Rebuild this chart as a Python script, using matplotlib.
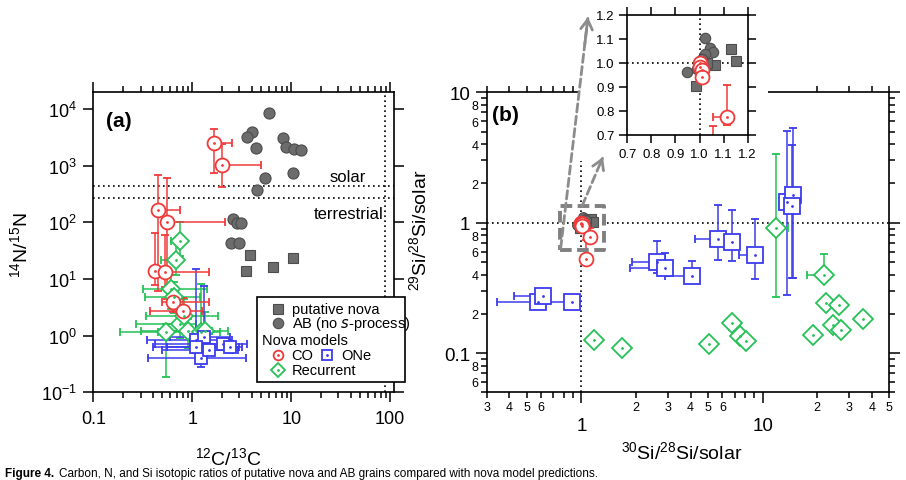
import numpy as np
import matplotlib
matplotlib.use("Agg")
import matplotlib.pyplot as plt
from matplotlib.patches import Rectangle, FancyArrowPatch
from matplotlib.lines import Line2D
from matplotlib.ticker import NullLocator

plt.rcParams['font.family'] = ['Liberation Sans', 'DejaVu Sans']
plt.rcParams['mathtext.default'] = 'regular'

# ---------------- panel (a): 12C/13C vs 14N/15N ----------------
ab_a_c = [5.9, 4.0, 3.57, 4.4, 8.35, 8.8, 10.7, 12.5, 10.4, 5.46, 4.5, 2.6, 2.84, 3.1, 2.45, 3.0]
ab_a_n = [8400, 3880, 3250, 2080, 3040, 2110, 1970, 1890, 733, 607, 378, 115, 97, 97, 43, 43]
nova_a_c = [3.86, 3.5, 6.5, 10.5]
nova_a_n = [27, 13.9, 16.6, 23.5]

co_a_c = [1.65, 1.99, 0.45, 0.556, 0.418, 0.527, 0.64, 0.80]
co_a_n = [2480, 1040, 167, 103, 14.1, 13.2, 4.0, 2.77]
co_a_clo = [1.58, 1.95, 0.44, 0.545, 0.41, 0.52, 0.49, 0.377]
co_a_chi = [2.5, 4.94, 0.745, 2.15, 0.43, 1.49, 1.49, 1.25]
co_a_nlo = [733, 418, 6.2, 4.5, 7.7, 7.3, 2.6, 1.8]
co_a_nhi = [4440, 2400, 694, 608, 64, 60, 6.5, 4.6]

one_a_c = [1.23, 1.49, 2.03, 1.08, 1.3, 1.1, 2.4]
one_a_n = [0.40, 0.55, 0.72, 0.85, 0.95, 0.62, 0.62]
one_a_clo = [0.36, 0.5, 0.42, 0.35, 0.6, 0.4, 0.55]
one_a_chi = [3.5, 2.9, 3.6, 2.5, 2.4, 3.0, 3.2]
one_a_nlo = [0.28, 0.45, 0.62, 0.5, 0.8, 0.5, 0.5]
one_a_nhi = [0.5, 0.7, 0.9, 15, 7.5, 1.0, 0.8]

rec_a_c = [0.76, 0.69, 0.61, 0.745, 0.547, 0.90, 1.23, 1.33, 0.82, 0.66]
rec_a_n = [47.5, 22, 6.7, 1.6, 1.15, 1.23, 1.15, 1.23, 2.2, 4.8]
rec_a_clo = [0.61, 0.488, 0.318, 0.273, 0.186, 0.30, 0.45, 0.5, 0.344, 0.33]
rec_a_chi = [0.77, 0.70, 1.4, 1.1, 0.56, 1.6, 1.9, 2.3, 1.8, 1.2]
rec_a_nlo = [25, 12, 3.0, 0.9, 0.19, 0.6, 0.5, 0.8, 1.2, 2.5]
rec_a_nhi = [103, 45, 12, 3.5, 1.6, 2.0, 8.0, 2.6, 4.5, 9.0]

# ---------------- panel (b): 30Si/28Si vs 29Si/28Si (solar-normalised) ----------------
ab_b_30 = [1.023, 1.043, 1.057, 1.023, 1.009, 1.005, 0.948, 0.988]
ab_b_29 = [1.103, 1.061, 1.044, 1.038, 1.017, 1.003, 0.964, 0.975]
nova_b_30 = [1.129, 1.152, 1.064, 0.984, 1.03]
nova_b_29 = [1.058, 1.008, 0.993, 0.903, 1.0]

co_b_30 = [1.0, 1.0, 1.01, 1.012, 1.113, 1.057]
co_b_29 = [1.0, 0.985, 0.971, 0.94, 0.774, 0.527]
co_b_30lo = [1.0, 1.0, 1.01, 1.012, 1.057, 1.057]
co_b_30hi = [1.0, 1.0, 1.01, 1.012, 1.118, 1.057]
co_b_29lo = [1.0, 0.985, 0.971, 0.94, 0.742, 0.50]
co_b_29hi = [1.0, 0.985, 0.971, 0.94, 0.909, 0.739]

one_b_30 = [0.579, 0.612, 0.885, 2.62, 2.89, 4.06, 5.65, 6.75, 9.07, 13.6, 14.8, 14.6]
one_b_29 = [0.245, 0.273, 0.245, 0.497, 0.447, 0.388, 0.75, 0.707, 0.566, 1.45, 1.63, 1.35]
one_b_30lo = [0.579, 0.422, 0.341, 1.9, 1.85, 2.9, 4.24, 6.75, 7.4, 13.6, 14.8, 14.6]
one_b_30hi = [0.579, 0.612, 0.885, 2.62, 2.89, 4.06, 5.65, 6.75, 9.07, 13.6, 14.8, 14.6]
one_b_29lo = [0.245, 0.273, 0.245, 0.41, 0.42, 0.375, 0.518, 0.51, 0.371, 0.28, 0.375, 0.375]
one_b_29hi = [0.245, 0.273, 0.245, 0.728, 0.586, 0.512, 1.36, 1.24, 1.07, 5.06, 5.37, 3.93]

rec_b_30 = [11.8, 21.9, 22.4, 26.5, 24.3, 27.0, 35.9, 19.0, 6.8, 7.5, 8.06, 5.08, 1.17, 1.68]
rec_b_29 = [0.905, 0.398, 0.243, 0.234, 0.163, 0.149, 0.183, 0.138, 0.171, 0.134, 0.123, 0.118, 0.127, 0.11]
rec_b_30lo = [11.8, 17.6, 22.4, 26.5, 24.3, 27.0, 35.9, 19.0, 6.8, 7.5, 8.06, 5.08, 1.17, 1.68]
rec_b_30hi = [13.8, 21.9, 22.4, 26.5, 24.3, 27.0, 35.9, 19.0, 6.8, 7.5, 8.06, 5.08, 1.17, 1.68]
rec_b_29lo = [0.268, 0.398, 0.243, 0.234, 0.163, 0.149, 0.183, 0.138, 0.15, 0.134, 0.123, 0.118, 0.127, 0.11]
rec_b_29hi = [3.36, 0.575, 0.243, 0.234, 0.163, 0.149, 0.183, 0.138, 0.171, 0.134, 0.123, 0.118, 0.127, 0.11]

RED = '#f03a3a'
BLUE = '#3c3cef'
GREEN = '#25c256'
GREY = '#6c6c6c'
GREY_EDGE = '#4c4c4c'

W, H = 906, 481
fig = plt.figure(figsize=(W / 100, H / 100), dpi=100)


def frac(px, py):
    return px / W, 1 - py / H


def box(left, top, right, bottom):
    return [left / W, 1 - bottom / H, (right - left) / W, (bottom - top) / H]


def model(ax, x, y, xlo, xhi, ylo, yhi, color, marker, ms, capsize=3):
    x, y = np.array(x), np.array(y)
    xerr = [np.clip(x - np.array(xlo), 0, None), np.clip(np.array(xhi) - x, 0, None)]
    yerr = [np.clip(y - np.array(ylo), 0, None), np.clip(np.array(yhi) - y, 0, None)]
    ax.errorbar(x, y, xerr=xerr, yerr=yerr, fmt=marker, ms=ms, mfc='white', mec=color,
                mew=1.3, ecolor=color, elinewidth=1.1, capsize=capsize, capthick=1.1)
    ax.plot(x, y, '.', color=color, ms=2, zorder=3)


def grains(ax, ab_x, ab_y, nv_x, nv_y, ms=8):
    ax.plot(nv_x, nv_y, 's', ms=ms - 0.5, mfc=GREY, mec=GREY_EDGE, mew=0.8, zorder=2)
    ax.plot(ab_x, ab_y, 'o', ms=ms, mfc=GREY, mec=GREY_EDGE, mew=0.8, zorder=2)


def dotted(ax, horiz=None, vert=None):
    if horiz is not None:
        ax.axhline(horiz, color='black', lw=1.2, ls=(0, (1, 2)), zorder=1)
    if vert is not None:
        ax.axvline(vert, color='black', lw=1.2, ls=(0, (1, 2)), zorder=1)


# ======================= panel (a) =======================
ax_a = fig.add_axes(box(93.3, 93, 394.3, 393.3))
ax_a.set_xscale('log')
ax_a.set_yscale('log')
dotted(ax_a, horiz=441)
dotted(ax_a, horiz=272)
dotted(ax_a, vert=89)
model(ax_a, rec_a_c, rec_a_n, rec_a_clo, rec_a_chi, rec_a_nlo, rec_a_nhi, GREEN, 'D', 9)
model(ax_a, one_a_c, one_a_n, one_a_clo, one_a_chi, one_a_nlo, one_a_nhi, BLUE, 's', 8.5)
model(ax_a, co_a_c, co_a_n, co_a_clo, co_a_chi, co_a_nlo, co_a_nhi, RED, 'o', 10)
grains(ax_a, ab_a_c, ab_a_n, nova_a_c, nova_a_n)
ax_a.set_xlim(0.1, 110)
ax_a.set_ylim(0.1, 2e4)
ax_a.set_xticks([0.1, 1, 10, 100], ['0.1', '1', '10', '100'])
ax_a.set_yticks([0.1, 1, 10, 100, 1e3, 1e4],
                ['10$^{-1}$', '10$^{0}$', '10$^{1}$', '10$^{2}$', '10$^{3}$', '10$^{4}$'])
ax_a.yaxis.set_minor_locator(NullLocator())
ax_a.tick_params(which='both', direction='out', top=True, right=True, width=1.1, labelsize=13)
ax_a.tick_params(which='major', length=7)
ax_a.tick_params(which='minor', length=4)
ax_a.tick_params(axis='x', which='major', pad=6)
ax_a.tick_params(axis='y', which='major', pad=5)
for s in ax_a.spines.values():
    s.set_linewidth(1.2)
ax_a.set_xlabel('$^{12}$C/$^{13}$C', fontsize=14)
ax_a.xaxis.set_label_coords(0.4475, -0.18)
ax_a.set_ylabel('$^{14}$N/$^{15}$N', fontsize=14)
ax_a.yaxis.set_label_coords(-0.205, 0.494)
ax_a.text(0.086, 0.905, '(a)', transform=ax_a.transAxes, fontsize=15, weight='bold',
          ha='center', va='center')
ax_a.text(0.847, 0.72, 'solar', transform=ax_a.transAxes, fontsize=12, ha='center', va='center')
ax_a.text(0.848, 0.594, 'terrestrial', transform=ax_a.transAxes, fontsize=12,
          ha='center', va='center')

# legend drawn by hand (box sticks out past the right spine)
lx0, ly0 = frac(257, 383)
lx1, ly1 = frac(405, 298)
fig.add_artist(Rectangle((lx0, ly0), lx1 - lx0, ly1 - ly0, transform=fig.transFigure,
                         facecolor='white', edgecolor='black', lw=1.2, zorder=5))


def leg_marker(px, py, **kw):
    x, y = frac(px, py)
    fig.add_artist(Line2D([x], [y], transform=fig.transFigure, zorder=6, **kw))


def leg_text(px, py, s):
    x, y = frac(px, py)
    fig.text(x, y, s, fontsize=10.5, va='center', ha='left', zorder=6)


leg_marker(277.7, 310, marker='s', ms=7, mfc=GREY, mec=GREY_EDGE, mew=0.8)
leg_text(291.7, 310, 'putative nova')
leg_marker(277.7, 324.3, marker='o', ms=7.5, mfc=GREY, mec=GREY_EDGE, mew=0.8)
leg_text(291.7, 324.3, 'AB (no $\\it{s}$-process)')
leg_text(261.7, 340.7, 'Nova models')
leg_marker(277.7, 355.7, marker='o', ms=7, mfc='white', mec=RED, mew=1.3)
leg_marker(277.7, 355.7, marker='.', ms=2, color=RED)
leg_text(291.7, 355.7, 'CO')
leg_marker(326.7, 355.7, marker='s', ms=7, mfc='white', mec=BLUE, mew=1.3)
leg_marker(326.7, 355.7, marker='.', ms=2, color=BLUE)
leg_text(341.7, 355.7, 'ONe')
leg_marker(277.7, 370.7, marker='D', ms=7, mfc='white', mec=GREEN, mew=1.3)
leg_marker(277.7, 370.7, marker='.', ms=2, color=GREEN)
leg_text(291.7, 370.7, 'Recurrent')

# ======================= panel (b) =======================
ax_b = fig.add_axes(box(486.7, 93.3, 889.3, 393.3))
ax_b.set_xscale('log')
ax_b.set_yscale('log')
dotted(ax_b, horiz=1, vert=1)
grains(ax_b, ab_b_30, ab_b_29, nova_b_30, nova_b_29, ms=7)
model(ax_b, one_b_30, one_b_29, one_b_30lo, one_b_30hi, one_b_29lo, one_b_29hi, BLUE, 's', 11)
model(ax_b, rec_b_30, rec_b_29, rec_b_30lo, rec_b_30hi, rec_b_29lo, rec_b_29hi, GREEN, 'D', 10)
model(ax_b, co_b_30, co_b_29, co_b_30lo, co_b_30hi, co_b_29lo, co_b_29hi, RED, 'o', 10)
ax_b.set_xlim(0.3, 50)
ax_b.set_ylim(0.05, 10)

x_minor = [0.3, 0.4, 0.5, 0.6, 0.7, 0.8, 0.9, 2, 3, 4, 5, 6, 7, 8, 9, 20, 30, 40, 50]
x_minor_lab = ['3', '4', '5', '6', '', '', '', '2', '3', '4', '5', '6', '', '', '',
               '2', '3', '4', '5']
y_minor = [0.05, 0.06, 0.07, 0.08, 0.09, 0.2, 0.3, 0.4, 0.5, 0.6, 0.7, 0.8, 0.9,
           2, 3, 4, 5, 6, 7, 8, 9]
y_minor_lab = ['', '6', '', '8', '', '2', '', '4', '', '6', '', '8', '',
               '2', '', '4', '', '6', '', '8', '']
ax_b.set_xticks([1, 10], ['1', '10'])
ax_b.set_xticks(x_minor, x_minor_lab, minor=True)
ax_b.set_yticks([0.1, 1, 10], ['0.1', '1', '10'])
ax_b.set_yticks(y_minor, y_minor_lab, minor=True)
ax_b.tick_params(which='both', direction='out', top=True, right=True, width=1.1)
ax_b.tick_params(which='major', length=8, labelsize=13.5)
ax_b.tick_params(which='minor', length=4.5, labelsize=9)
ax_b.tick_params(axis='x', which='major', pad=10)
ax_b.tick_params(axis='x', which='minor', pad=2)
ax_b.tick_params(axis='y', which='major', pad=4)
ax_b.tick_params(axis='y', which='minor', pad=1.5)
for s in ax_b.spines.values():
    s.set_linewidth(1.2)
ax_b.set_xlabel('$^{30}$Si/$^{28}$Si/solar', fontsize=14)
ax_b.xaxis.set_label_coords(0.484, -0.16)
ax_b.set_ylabel('$^{29}$Si/$^{28}$Si/solar', fontsize=14)
ax_b.yaxis.set_label_coords(-0.14, 0.544)
ax_b.text(0.047, 0.925, '(b)', transform=ax_b.transAxes, fontsize=15, weight='bold',
          ha='center', va='center')

# zoom box round the solar cluster
zx0, zx1, zy0, zy1 = 0.76, 1.33, 0.62, 1.35
ax_b.add_patch(Rectangle((zx0, zy0), zx1 - zx0, zy1 - zy0, fill=False, edgecolor='#808080',
                         lw=2.8, ls=(0, (3, 1.4)), joinstyle='round', zorder=4))

# white backing behind the inset (hides the top spine of (b))
wx0, wy0 = frac(578, 162)
wx1, wy1 = frac(768, 0)
fig.add_artist(Rectangle((wx0, wy0), wx1 - wx0, wy1 - wy0, transform=fig.transFigure,
                         facecolor='white', edgecolor='none', zorder=2))

# ======================= inset =======================
ax_in = fig.add_axes(box(627.3, 16, 747.7, 136))
ax_in.set_zorder(3)
dotted(ax_in, horiz=1.0, vert=1.0)
grains(ax_in, ab_b_30, ab_b_29, nova_b_30, nova_b_29, ms=7.5)
model(ax_in, co_b_30, co_b_29, co_b_30lo, co_b_30hi, co_b_29lo, co_b_29hi, RED, 'o', 10)
ax_in.set_xlim(0.7, 1.2)
ax_in.set_ylim(0.7, 1.2)
in_ticks = [0.7, 0.8, 0.9, 1.0, 1.1, 1.2]
in_lab = ['0.7', '0.8', '0.9', '1.0', '1.1', '1.2']
ax_in.set_xticks(in_ticks, in_lab)
ax_in.set_yticks(in_ticks, in_lab)
ax_in.tick_params(direction='out', top=True, right=True, length=6, width=1.1,
                  labelsize=9.5, pad=3)
for s in ax_in.spines.values():
    s.set_linewidth(1.2)

# caption line at the bottom edge
cap_y = frac(0, 480)[1]
cap_head = fig.text(0.006, cap_y, 'Figure 4.', fontsize=8.5, weight='bold',
                    va='bottom', ha='left')

# dashed arrows from the zoom box to the inset
fig.canvas.draw()
to_fig = fig.transFigure.inverted()


def dashed_arrow(xy_data, end_px):
    start = to_fig.transform(ax_b.transData.transform(xy_data))
    end = np.array(frac(*end_px))
    fig.add_artist(FancyArrowPatch(start, end, transform=fig.transFigure, arrowstyle='-',
                                   color='#8c8c8c', lw=2, ls=(0, (3, 1.5)), zorder=4,
                                   shrinkA=0, shrinkB=1))
    mid = start + 0.88 * (end - start)
    fig.add_artist(FancyArrowPatch(mid, end, transform=fig.transFigure,
                                   arrowstyle='->,head_length=0.5,head_width=0.3',
                                   mutation_scale=14, color='#8c8c8c', lw=2, zorder=4,
                                   shrinkA=0, shrinkB=0))


dashed_arrow((zx0 * 1.01, zy0 * 1.02), (588, 18))
dashed_arrow((1.01, zy1), (603, 158))

head_end = to_fig.transform(cap_head.get_window_extent().get_points())[1][0]
fig.text(head_end + 0.005, cap_y,
         'Carbon, N, and Si isotopic ratios of putative nova and AB grains compared with '
         'nova model predictions.',
         fontsize=8.5, va='bottom', ha='left')

fig.savefig('out.png', dpi=100)
